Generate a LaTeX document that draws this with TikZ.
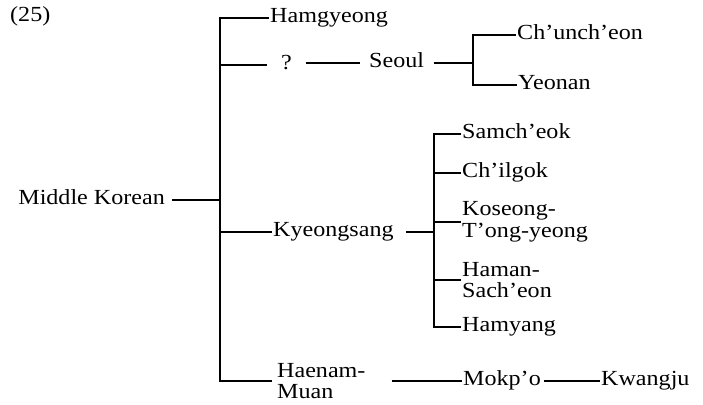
\documentclass[tikz,border=0pt]{standalone}
\usepackage{fontspec}
\setmainfont[FakeStretch=1.12]{Liberation Serif}
\newcommand{\lblfont}{\fontsize{21.5}{21.5}\selectfont}
\tikzset{
  lbl/.style={anchor=west, inner sep=0pt, text height=14pt, text depth=4.5pt, font=\lblfont},
  lbltwo/.style={anchor=west, inner sep=0pt, align=left, font=\lblfont},
  ln/.style={line width=1.6pt}
}
\begin{document}
\begin{tikzpicture}[x=1pt,y=-1pt]
\useasboundingbox (0,0) rectangle (703,404);
% labels
\node[lbl] (n25) at (10,17) {(25)};
\node[lbl] (ham) at (270,18) {Hamgyeong};
\node[lbl] (q) at (281,65) {?};
\node[lbl] (seoul) at (369,63) {Seoul};
\node[lbl] (chun) at (517,35) {Ch'unch'eon};
\node[lbl] (yeo) at (518,85) {Yeonan};
\node[lbl, anchor=east] (mk) at (165,200) {Middle Korean};
\node[lbl] (ky) at (273,232) {Kyeongsang};
\node[lbl] (sam) at (462,134) {Samch'eok};
\node[lbl] (chil) at (462,173) {Ch'ilgok};
\node[lbltwo] (kos) at (462,222) {Koseong-\\T'ong-yeong};
\node[lbltwo] (hama) at (462,280) {Haman-\\Sach'eon};
\node[lbl] (hy) at (462,327) {Hamyang};
\node[lbltwo] (hae) at (277,381) {Haenam-\\Muan};
\node[lbl] (mok) at (463,381) {Mokp'o};
\node[lbl] (kw) at (601,381) {Kwangju};
% bar positions
\coordinate (A) at (220,0);
\coordinate (B) at (473,0);
\coordinate (C) at (434,0);
% main tree
\draw[ln] ([xshift=-1.5pt]ham.west) -- (ham.west -| A) -- (hae.west -| A) -- ([xshift=-5pt]hae.west);
\draw[ln] ([xshift=-14pt]q.west) -- (q.west -| A);
\draw[ln] ([xshift=7pt]mk.east) -- (mk.east -| A);
\draw[ln] ([xshift=-1.5pt]ky.west) -- (ky.west -| A);
% Seoul branch
\draw[ln] ([xshift=14pt]q.east |- seoul.west) -- ([xshift=-9pt]seoul.west);
\draw[ln] ([xshift=10pt]seoul.east) -- (seoul.east -| B);
\draw[ln] ([xshift=-1.5pt]chun.west) -| (B |- yeo.west) -- ([xshift=-1.5pt]yeo.west);
% Kyeongsang branch
\draw[ln] ([xshift=12pt]ky.east) -- (ky.east -| C);
\draw[ln] ([xshift=-1.5pt]sam.west) -| (C |- hy.west) -- ([xshift=-1.5pt]hy.west);
\draw[ln] ([xshift=-1.5pt]chil.west) -- (chil.west -| C);
\draw[ln] ([xshift=-1.5pt]kos.west) -- (kos.west -| C);
\draw[ln] ([xshift=-1.5pt]hama.west) -- (hama.west -| C);
% Haenam branch
\draw[ln] ([xshift=26pt]hae.east) -- ([xshift=-1.5pt]mok.west);
\draw[ln] ([xshift=3pt]mok.east) -- ([xshift=-1.5pt]kw.west);
\end{tikzpicture}
\end{document}
